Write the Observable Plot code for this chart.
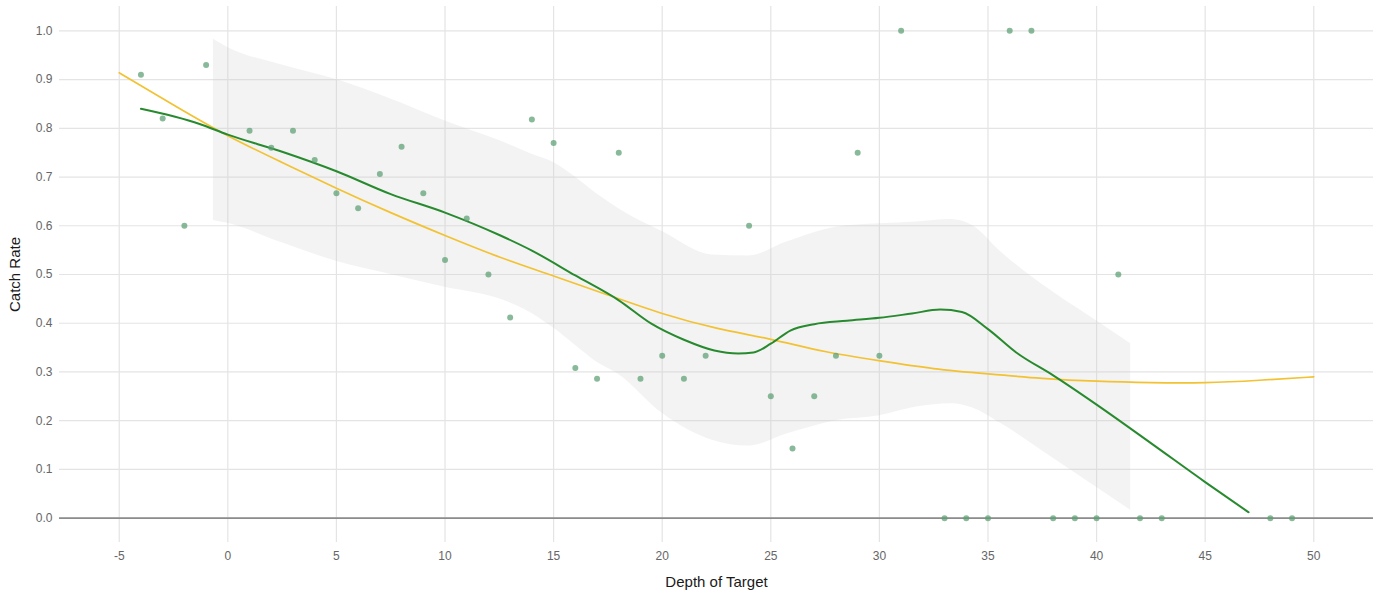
<!DOCTYPE html>
<html>
<head>
<meta charset="utf-8">
<script src="https://cdn.jsdelivr.net/npm/d3@7"></script>
<script src="https://cdn.jsdelivr.net/npm/@observablehq/plot@0.6"></script>
<style>
  html, body { margin: 0; padding: 0; background: #fff; }
  #chart svg { display: block; }
  g[aria-label="x-axis label"] text, g[aria-label="y-axis label"] text { fill: #1a1a1a; font-size: 15px; }
</style>
</head>
<body>
<div id="chart"></div>
<script>
// Observed points: depth of target vs catch rate
const depth = [-4, -3, -2, -1, 1, 2, 3, 4, 5, 6, 7, 8, 9, 10, 11, 12, 13, 14, 15, 16, 17, 18, 19, 20, 21, 22, 24, 25, 26, 27, 28, 29, 30, 31, 33, 34, 35, 36, 37, 38, 39, 40, 41, 42, 43, 48, 49];
const catchRate = [0.91, 0.82, 0.60, 0.93, 0.795, 0.76, 0.795, 0.735, 0.667, 0.636, 0.706, 0.762, 0.667, 0.53, 0.615, 0.5, 0.412, 0.818, 0.77, 0.308, 0.286, 0.75, 0.286, 0.333, 0.286, 0.333, 0.6, 0.25, 0.143, 0.25, 0.333, 0.75, 0.333, 1.0, 0, 0, 0, 1.0, 1.0, 0, 0, 0, 0.5, 0, 0, 0, 0];

// Loess smoother (green)
const loessX = [-4, -1.3, 0, 2.5, 5, 7.5, 10, 12.5, 14, 16, 18, 19.5, 21, 22.4, 23.5, 24.2, 25, 25.9, 27, 28.5, 30, 31.5, 32.8, 33.8, 35, 36.3, 38, 40, 42.5, 45, 47];
const loessY = [0.84, 0.809, 0.787, 0.752, 0.712, 0.665, 0.627, 0.581, 0.549, 0.498, 0.447, 0.399, 0.366, 0.344, 0.338, 0.34, 0.358, 0.385, 0.398, 0.405, 0.411, 0.42, 0.428, 0.423, 0.388, 0.34, 0.293, 0.233, 0.154, 0.074, 0.012];

// Confidence band (grey)
const bandX = [-0.66, 0, 2.5, 5, 7.5, 10, 12.5, 14, 15, 16, 17, 18, 20, 22.3, 24, 25.7, 28, 30, 31.7, 33.3, 34.3, 35.6, 37.9, 40.2, 41.57];
const bandUpper = [0.983, 0.966, 0.93, 0.90, 0.86, 0.815, 0.775, 0.747, 0.73, 0.70, 0.665, 0.635, 0.588, 0.54, 0.538, 0.566, 0.597, 0.604, 0.608, 0.613, 0.600, 0.546, 0.467, 0.399, 0.358];
const bandLower = [0.611, 0.605, 0.565, 0.527, 0.50, 0.474, 0.45, 0.42, 0.39, 0.355, 0.32, 0.295, 0.215, 0.16, 0.148, 0.172, 0.20, 0.21, 0.228, 0.235, 0.226, 0.194, 0.126, 0.057, 0.016];

// Polynomial fit (yellow)
const fitX = [-5, -2.5, 0, 2.5, 5, 7.5, 10, 12.5, 15, 17.5, 20, 22.5, 25, 27.5, 30, 32.5, 35, 37.5, 40, 42.5, 45, 47.5, 50];
const fitY = [0.914, 0.848, 0.785, 0.73, 0.677, 0.627, 0.58, 0.536, 0.497, 0.458, 0.42, 0.39, 0.367, 0.342, 0.323, 0.307, 0.296, 0.287, 0.281, 0.278, 0.278, 0.283, 0.29];

// Axis ticks
const xTicks = [-5, 0, 5, 10, 15, 20, 25, 30, 35, 40, 45, 50];
const yTicks = [0, 0.1, 0.2, 0.3, 0.4, 0.5, 0.6, 0.7, 0.8, 0.9, 1.0];

const points = depth.map((d, i) => ({x: d, y: catchRate[i]}));
const loess = loessX.map((d, i) => ({x: d, y: loessY[i]}));
const band = bandX.map((d, i) => ({x: d, lo: bandLower[i], hi: bandUpper[i]}));
const fit = fitX.map((d, i) => ({x: d, y: fitY[i]}));

const chart = Plot.plot({
  width: 1378,
  height: 597,
  marginLeft: 59,
  marginRight: 5,
  marginTop: 6,
  marginBottom: 55,
  style: {fontFamily: "'Liberation Sans', Arial, sans-serif", background: "#fff"},
  x: {domain: [-7.75, 52.75]},
  y: {domain: [-0.05, 1.05]},
  marks: [
    Plot.gridX(xTicks, {stroke: "#e4e4e4", strokeOpacity: 1, strokeWidth: 1.2}),
    Plot.gridY(yTicks, {stroke: "#e4e4e4", strokeOpacity: 1, strokeWidth: 1.2}),
    Plot.areaY(band, {x: "x", y1: "lo", y2: "hi", fill: "#c8c8c8", fillOpacity: 0.22, curve: "monotone-x"}),
    Plot.ruleY([0], {stroke: "#8c8c8c", strokeWidth: 1.6}),
    Plot.line(fit, {x: "x", y: "y", stroke: "#f2c232", strokeWidth: 1.7, curve: "natural"}),
    Plot.line(loess, {x: "x", y: "y", stroke: "#278a2e", strokeWidth: 2, curve: "monotone-x"}),
    Plot.dot(points, {x: "x", y: "y", r: 3, fill: "#5a9e72", fillOpacity: 0.72, stroke: "none"}),
    Plot.axisX(xTicks, {tickSize: 0, tickPadding: 9, fontSize: 12, fill: "#666", tickFormat: d => String(d), label: "Depth of Target", labelAnchor: "center", labelArrow: "none", labelOffset: 44}),
    Plot.axisY(yTicks, {tickSize: 0, tickPadding: 7, fontSize: 12, fill: "#666", tickFormat: d3.format(".1f"), label: "Catch Rate", labelAnchor: "center", labelArrow: "none", labelOffset: 50})
  ]
});
document.getElementById("chart").appendChild(chart);
</script>
</body>
</html>
